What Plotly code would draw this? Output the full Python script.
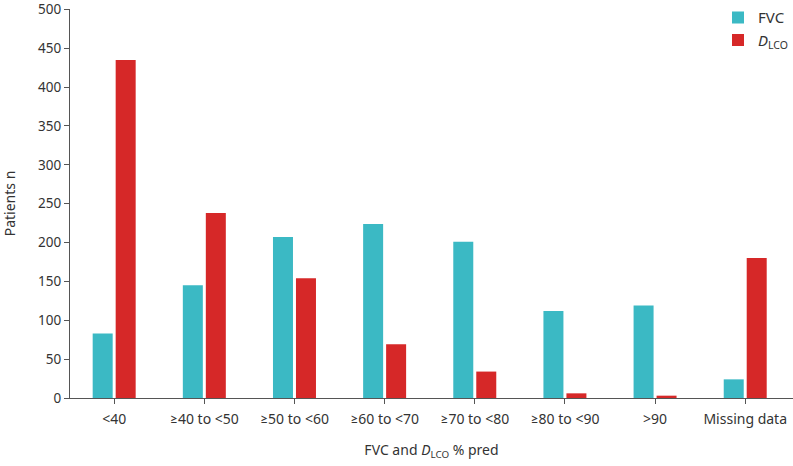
import plotly.graph_objects as go

categories = ["<40", "≥40 to <50", "≥50 to <60", "≥60 to <70",
              "≥70 to <80", "≥80 to <90", ">90", "Missing data"]
fvc = [83, 145, 207, 224, 201, 112, 119, 24]
dlco = [435, 238, 154, 69, 34, 6, 3, 180]

COLORS = {"fvc": "#3bb9c4", "dlco": "#d62828", "axis": "#555555", "text": "#333333"}
FONT = "Noto Sans, Lato, sans-serif"

fig = go.Figure()
fig.add_trace(go.Bar(x=categories, y=fvc, name="FVC",
                     marker=dict(color=COLORS["fvc"], line=dict(width=0))))
fig.add_trace(go.Bar(x=categories, y=dlco, name="<i>D</i><sub>LCO</sub>",
                     marker=dict(color=COLORS["dlco"], line=dict(width=0))))

fig.update_layout(
    width=793, height=466,
    barmode="group", bargap=0.49, bargroupgap=0.13,
    plot_bgcolor="white", paper_bgcolor="white",
    font=dict(family=FONT, size=14, color=COLORS["text"]),
    margin=dict(l=70, r=0, t=9, b=68),
    legend=dict(x=1, xanchor="right", y=1.02, yanchor="top",
                font=dict(size=15), bgcolor="rgba(0,0,0,0)",
                tracegroupgap=2, itemwidth=30),
)
fig.update_xaxes(
    range=[-0.49, 7.53], showline=True, linecolor=COLORS["axis"], linewidth=1.2,
    ticks="outside", ticklen=5, tickcolor=COLORS["axis"], showgrid=False,
    tickfont=dict(size=14), ticklabelstandoff=3,
    title=dict(text="FVC and <i>D</i><sub>LCO</sub> % pred", standoff=18,
               font=dict(size=14)),
)
fig.update_yaxes(
    range=[0, 500.5], tickvals=list(range(0, 501, 50)), showline=True,
    linecolor=COLORS["axis"], linewidth=1.2,
    ticks="outside", ticklen=5, tickcolor=COLORS["axis"], showgrid=False,
    zeroline=False, tickfont=dict(size=13.5),
    title=dict(text="Patients n", standoff=20, font=dict(size=14)),
)

# drop the browser's default body margin so the figure sits at the page corner
fig.write_html("out.html", config={"displayModeBar": False},
               post_script="document.body.style.margin='0';")
